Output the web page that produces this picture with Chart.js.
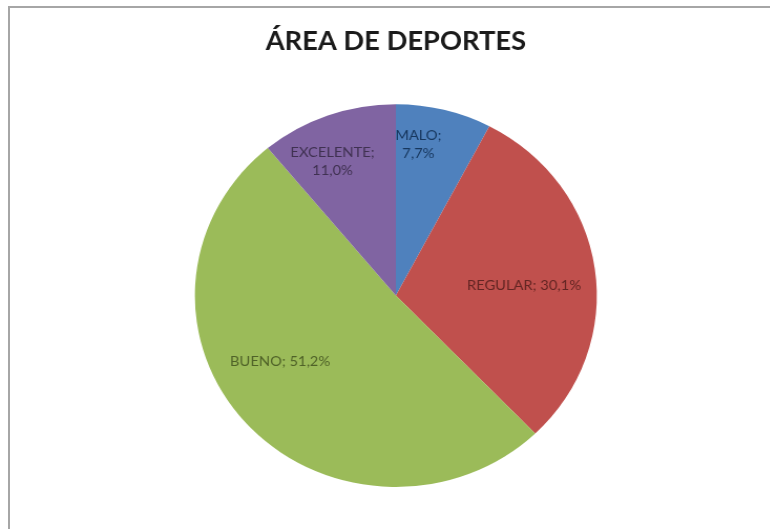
<!DOCTYPE html>
<html>
<head>
<meta charset="utf-8">
<script src="https://cdn.jsdelivr.net/npm/chart.js@4/dist/chart.umd.min.js"></script>
<style>
    html, body { margin: 0; padding: 0; background: #fff; overflow: hidden; width: 770px; height: 529px; }
    .rule { position: absolute; background: #a6a6a6; }
    #ruleLeft { left: 8px; top: 6px; width: 2px; height: 540px; }
    #ruleTop { left: 8px; top: 6px; width: 780px; height: 2px; }
    #wrap { position: absolute; left: 0; top: 0; width: 754px; height: 529px; transform: scaleX(1.05); transform-origin: 0 0; }
</style>
</head>
<body>
<div class="rule" id="ruleLeft"></div>
<div class="rule" id="ruleTop"></div>
<div id="wrap"><canvas id="pieChart"></canvas></div>
<script>
const categories = ["MALO", "REGULAR", "BUENO", "EXCELENTE"];
const percentages = [7.7, 30.1, 51.2, 11.0];
const sliceColors = ['#4F81BD', '#C0504D', '#9BBB59', '#8064A2'];
const textColors = ['#17375E', '#632523', '#4F6228', '#3F3151'];

// draws "NAME; 00,0%" inside each slice like the Excel labels
const sliceLabels = {
    id: 'sliceLabels',
    afterDatasetsDraw(chart, args, opts) {
        const ctx = chart.ctx;
        const meta = chart.getDatasetMeta(0);
        ctx.save();
        ctx.font = opts.font;
        ctx.textAlign = 'center';
        ctx.textBaseline = 'middle';
        meta.data.forEach(function (arc, i) {
            const mid = arc.startAngle + (arc.endAngle - arc.startAngle) * opts.angleShift[i];
            const r = arc.outerRadius * opts.radius[i];
            const x = arc.x + Math.cos(mid) * r;
            const y = arc.y + Math.sin(mid) * r;
            const value = percentages[i].toFixed(1).replace('.', ',') + '%';
            ctx.fillStyle = textColors[i];
            if (opts.twoLines[i]) {
                ctx.fillText(categories[i] + ';', x, y - 9);
                ctx.fillText(value, x, y + 9);
            } else {
                ctx.fillText(categories[i] + '; ' + value, x, y);
            }
        });
        ctx.restore();
    }
};

const ctx = document.getElementById('pieChart').getContext('2d');
const pieChart = new Chart(ctx, {
    type: 'pie',
    data: {
        labels: categories,
        datasets: [{
            data: percentages,
            backgroundColor: sliceColors,
            borderWidth: 0
        }]
    },
    options: {
        responsive: true,
        maintainAspectRatio: false,
        animation: false,
        layout: { padding: { top: 0, bottom: 42 } },
        plugins: {
            legend: { display: false },
            tooltip: { enabled: false },
            title: {
                display: true,
                text: 'ÁREA DE DEPORTES',
                color: '#1a1a1a',
                font: { family: 'Lato', size: 26, weight: 'bold', lineHeight: 1.2 },
                padding: { top: 26, bottom: 47 }
            },
            sliceLabels: {
                font: '14px Lato',
                radius: [0.8, 0.64, 0.67, 0.77],
                angleShift: [0.29, 0.53, 0.56, 0.39],
                twoLines: [true, false, false, true]
            }
        }
    },
    plugins: [sliceLabels]
});
</script>
</body>
</html>
